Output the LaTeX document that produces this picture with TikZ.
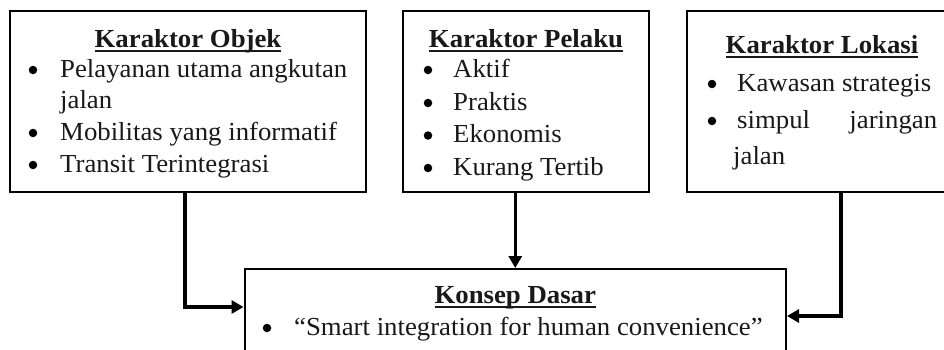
\documentclass[tikz,border=0pt]{standalone}
\usepackage{fontspec}
\setmainfont{Liberation Serif}[FakeStretch=1.03]
\usetikzlibrary{arrows.meta}
\newcommand{\myul}[1]{\setbox0\hbox{#1}\rlap{\rule[-4.8pt]{\wd0}{1.8pt}}\box0}
\tikzset{
  box/.style={draw=black, line width=2pt, fill=none, inner sep=0pt},
  txt/.style={anchor=base west, inner sep=0pt, text=black!90, font=\fontsize{26}{30}\selectfont},
  ttl/.style={anchor=base, inner sep=0pt, text=black!90, font=\fontsize{26}{30}\selectfont\bfseries},
  dot/.style={circle, fill=black, inner sep=0pt, minimum size=8.5pt},
  arr/.style={line width=3.2pt, -{Triangle[length=12pt,width=13pt]}}
}
\begin{document}
\begin{tikzpicture}[x=1pt,y=-1pt]
\clip (0,0) rectangle (944,349);
\fill[white] (0,0) rectangle (944,349);
% boxes
\node[box, minimum width=356pt, minimum height=181pt] (b1) at (188,101.5) {};
\node[box, minimum width=246pt, minimum height=181pt] (b2) at (526,101.5) {};
\node[box, minimum width=270pt, minimum height=181pt] (b3) at (822,101.5) {};
\node[box, minimum width=541.5pt, minimum height=110pt] (b4) at (515.25,324) {};
% box 1
\node[ttl] (t1) at (188,47) {\myul{Karaktor Objek}};
\node[dot] (b1i1) at (33,70) {};
\node[txt] (l1a) at (60,77) {Pelayanan utama angkutan};
\node[txt] (l1b) at (60,108.5) {jalan};
\node[dot] (b1i2) at (33,133) {};
\node[txt] (l1c) at (60,140) {Mobilitas yang informatif};
\node[dot] (b1i3) at (33,165) {};
\node[txt] (l1d) at (60,172) {Transit Terintegrasi};
% box 2
\node[ttl] (t2) at (526,47) {\myul{Karaktor Pelaku}};
\node[dot] (b2i1) at (428,70) {};
\node[txt] (l2a) at (453,77) {Aktif};
\node[dot] (b2i2) at (428,103) {};
\node[txt] (l2b) at (453,110) {Praktis};
\node[dot] (b2i3) at (428,135.5) {};
\node[txt] (l2c) at (453,142.5) {Ekonomis};
\node[dot] (b2i4) at (428,168) {};
\node[txt] (l2d) at (453,175) {Kurang Tertib};
% box 3
\node[ttl] (t3) at (822,53) {\myul{Karaktor Lokasi}};
\node[dot] (b3i1) at (712,84) {};
\node[txt] (l3a) at (737,91) {Kawasan strategis};
\node[dot] (b3i2) at (712,121) {};
\node[txt] (l3b) at (737,128) {\makebox[200pt][l]{simpul\hfill jaringan}};
\node[txt] (l3c) at (733,164) {jalan};
% box 4
\node[ttl] (t4) at (515.25,303) {\myul{Konsep Dasar}};
\node[dot] (b4i1) at (267,328) {};
\node[txt] (l4a) at (294,335) {``Smart integration for human convenience''};
% connectors
\coordinate (cl) at (185,307);
\coordinate (cr) at (841,316);
\draw[arr] (b1.south -| cl) -- (cl) -- (cl -| b4.west);
\draw[arr] (b2.south -| b4.north) -- (b4.north);
\draw[arr] (b3.south -| cr) -- (cr) -- (cr -| b4.east);
\end{tikzpicture}
\end{document}
